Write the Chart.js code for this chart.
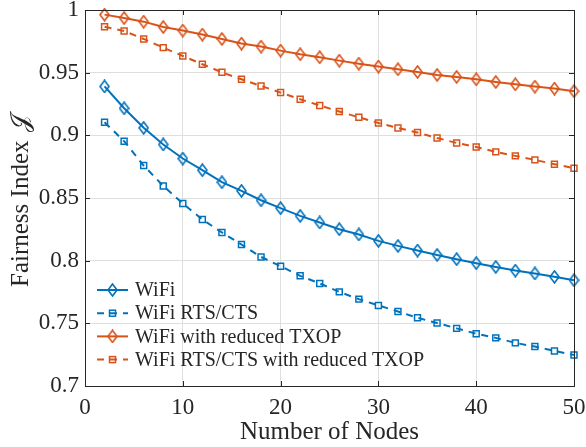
<!DOCTYPE html>
<html>
<head>
<meta charset="utf-8">
<script src="https://cdn.jsdelivr.net/npm/chart.js@4/dist/chart.umd.min.js"></script>
<style>
  body { margin: 0; background: #fff; }
</style>
</head>
<body>
<canvas id="chart" width="586" height="447"></canvas>
<script>
// Data
const nodes = [2, 4, 6, 8, 10, 12, 14, 16, 18, 20, 22, 24, 26, 28, 30, 32, 34, 36, 38, 40, 42, 44, 46, 48, 50];
const wifi = [0.939, 0.9216, 0.906, 0.8927, 0.8815, 0.8722, 0.8626, 0.8557, 0.8482, 0.8419, 0.8357, 0.8305, 0.8251,
  0.8209, 0.8158, 0.8118, 0.8081, 0.8046, 0.8012, 0.798, 0.795, 0.7921, 0.7898, 0.7871, 0.7844];
const wifiRts = [0.9104, 0.8953, 0.8759, 0.8596, 0.8456, 0.8329, 0.8225, 0.8129, 0.803, 0.7956, 0.7879, 0.7818, 0.7751,
  0.7693, 0.7643, 0.7595, 0.7544, 0.7502, 0.746, 0.7417, 0.7384, 0.7344, 0.7315, 0.728, 0.7248];
const wifiTxop = [0.9963, 0.9936, 0.9907, 0.9864, 0.9836, 0.9804, 0.9769, 0.9732, 0.9708, 0.9676, 0.9647, 0.9623, 0.9596,
  0.9572, 0.9549, 0.9527, 0.9506, 0.9482, 0.9466, 0.9447, 0.9426, 0.9407, 0.9389, 0.9373, 0.9352];
const wifiRtsTxop = [0.9867, 0.9833, 0.9769, 0.970, 0.9633, 0.9567, 0.9503, 0.9447, 0.9394, 0.9341, 0.9288, 0.9238, 0.919,
  0.9144, 0.9099, 0.9059, 0.9022, 0.8979, 0.8939, 0.8907, 0.8868, 0.8836, 0.8804, 0.877, 0.8738];
const labels = ["WiFi", "WiFi RTS/CTS", "WiFi with reduced TXOP", "WiFi RTS/CTS with reduced TXOP"];

const BLUE = "#0072BD";
const ORANGE = "#D95319";
const AXIS = "#262626";
const SERIF = "'Liberation Serif', 'Times New Roman', serif";

// open diamond marker, a bit taller than wide (matlab style)
function diamond(color) {
  const c = document.createElement("canvas");
  c.width = 11;
  c.height = 14;
  const g = c.getContext("2d");
  g.strokeStyle = color;
  g.lineWidth = 1.6;
  g.beginPath();
  g.moveTo(5.5, 1);
  g.lineTo(10, 7);
  g.lineTo(5.5, 13);
  g.lineTo(1, 7);
  g.closePath();
  g.stroke();
  return c;
}

function pts(ys) {
  return nodes.map((x, i) => ({ x: x, y: ys[i] }));
}

function series(label, ys, color, dashed, marker) {
  return {
    label: label,
    data: pts(ys),
    borderColor: color,
    backgroundColor: "rgba(0,0,0,0)",
    borderWidth: 2,
    borderDash: dashed ? [7, 6] : [],
    pointStyle: marker === "d" ? diamond(color) : "rect",
    pointRadius: 4.2,
    pointBorderWidth: 1.5,
    pointBorderColor: color,
    pointBackgroundColor: "rgba(0,0,0,0)",
    tension: 0,
    clip: false,
    marker: marker
  };
}

// box with inward ticks, y title, legend in lower-left corner
const boxPlugin = {
  id: "box",
  afterDraw(chart) {
    const ctx = chart.ctx;
    const a = chart.chartArea;
    const xs = chart.scales.x;
    const ys = chart.scales.y;
    ctx.save();
    ctx.strokeStyle = AXIS;
    ctx.lineWidth = 1;
    ctx.strokeRect(Math.round(a.left) + 0.5, Math.round(a.top) + 0.5,
      Math.round(a.right - a.left), Math.round(a.bottom - a.top));
    const t = 5;
    ctx.beginPath();
    xs.ticks.forEach(tk => {
      const px = Math.round(xs.getPixelForValue(tk.value)) + 0.5;
      ctx.moveTo(px, a.bottom); ctx.lineTo(px, a.bottom - t);
      ctx.moveTo(px, a.top); ctx.lineTo(px, a.top + t);
    });
    ys.ticks.forEach(tk => {
      const py = Math.round(ys.getPixelForValue(tk.value)) + 0.5;
      ctx.moveTo(a.left, py); ctx.lineTo(a.left + t, py);
      ctx.moveTo(a.right, py); ctx.lineTo(a.right - t, py);
    });
    ctx.stroke();

    // y axis title, drawn by hand so the script J sits right
    ctx.save();
    ctx.fillStyle = AXIS;
    ctx.font = "25px " + SERIF;
    ctx.textAlign = "left";
    ctx.textBaseline = "alphabetic";
    ctx.translate(28, 287);
    ctx.rotate(-Math.PI / 2);
    ctx.fillText("Fairness Index", 0, 0);
    const J = "\uD835\uDCA5";
    const mj = ctx.measureText(J);
    // centre the J's ink about 166px along the baseline
    ctx.fillText(J, 166 - (mj.actualBoundingBoxRight - mj.actualBoundingBoxLeft) / 2, 0);
    ctx.restore();

    // legend
    const x0 = a.left + 12, x1 = a.left + 43, tx = a.left + 50;
    const y0 = 290, dy = 23.2;
    ctx.font = "20px " + SERIF;
    ctx.textBaseline = "middle";
    chart.data.datasets.forEach((ds, i) => {
      const y = y0 + i * dy;
      ctx.strokeStyle = ds.borderColor;
      ctx.lineWidth = 2;
      ctx.setLineDash(ds.borderDash);
      ctx.beginPath();
      ctx.moveTo(x0, y); ctx.lineTo(x1, y);
      ctx.stroke();
      ctx.setLineDash([]);
      const mx = (x0 + x1) / 2;
      if (ds.marker === "d") {
        ctx.drawImage(ds.pointStyle, mx - 5.5, y - 7);
      } else {
        ctx.lineWidth = 1.5;
        ctx.strokeRect(mx - 3, y - 3, 6, 6);
      }
      ctx.fillStyle = AXIS;
      ctx.fillText(ds.label, tx, y + 1);
    });
    ctx.restore();
  }
};

new Chart(document.getElementById("chart"), {
  type: "line",
  data: {
    datasets: [
      series(labels[0], wifi, BLUE, false, "d"),
      series(labels[1], wifiRts, BLUE, true, "s"),
      series(labels[2], wifiTxop, ORANGE, false, "d"),
      series(labels[3], wifiRtsTxop, ORANGE, true, "s")
    ]
  },
  options: {
    responsive: false,
    animation: false,
    layout: { padding: { top: 10, right: 12, left: 0, bottom: 0 } },
    plugins: { legend: { display: false }, tooltip: { enabled: false } },
    scales: {
      x: {
        type: "linear",
        min: 0,
        max: 50,
        afterFit: s => { s.height = 61; s.paddingLeft = 0; s.paddingRight = 0; },
        ticks: { stepSize: 10, color: AXIS, font: { family: SERIF, size: 23 }, padding: 8, maxRotation: 0 },
        grid: { color: "#dfdfdf", drawTicks: false },
        border: { display: false },
        title: { display: true, text: "Number of Nodes", color: AXIS, font: { family: SERIF, size: 25 }, padding: { top: 0, bottom: 0 } }
      },
      y: {
        min: 0.7,
        max: 1,
        afterFit: s => { s.width = 85; s.paddingTop = 0; s.paddingBottom = 0; },
        ticks: {
          stepSize: 0.05,
          color: AXIS,
          font: { family: SERIF, size: 23 },
          padding: 6,
          callback: v => String(Number(v.toFixed(2)))
        },
        grid: { color: "#dfdfdf", drawTicks: false },
        border: { display: false },
        title: { display: false }
      }
    }
  },
  plugins: [boxPlugin]
});
</script>
</body>
</html>
